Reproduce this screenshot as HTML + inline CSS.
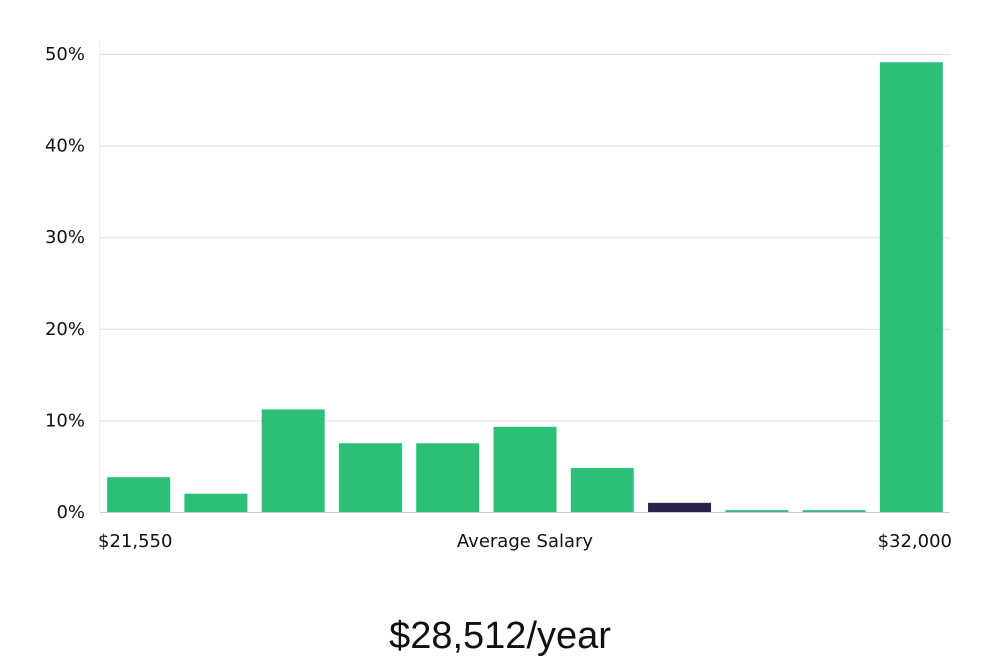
<!DOCTYPE html>
<html><head><meta charset="utf-8"><style>
body{margin:0;background:#fff;width:1000px;height:660px;overflow:hidden}
svg text{font-family:"DejaVu Sans","Liberation Sans",sans-serif;fill:#111}
</style></head><body>
<svg id="chart" width="1000" height="660">
<g id="grid"></g><g id="bars"></g><g id="ylabels"></g>
<line x1="100" y1="512.5" x2="950" y2="512.5" stroke="#ccc" stroke-width="1"/>
<text x="98" y="547" font-size="18">$21,550</text>
<text x="525" y="547" font-size="18" text-anchor="middle">Average Salary</text>
<text x="952" y="547" font-size="18" text-anchor="end">$32,000</text>
<text x="500" y="648" font-size="38" text-anchor="middle" style="font-family:'Liberation Sans',sans-serif;font-weight:300">$28,512/year</text>
</svg>
<script>
const values=[3.8,2.0,11.2,7.5,7.5,9.3,4.8,1.0,0.2,0.2,49.1];
const highlight=[false,false,false,false,false,false,false,true,false,false,false];
const yTicks=[0,10,20,30,40,50];
const yTickLabels=["0%","10%","20%","30%","40%","50%"];
const ns="http://www.w3.org/2000/svg";
const x0=100,x1=950,yBase=512,yTop=54,yMax=50;
const y=v=>yBase-(yBase-yTop)*v/yMax;
const band=(x1-x0)/values.length;
const grid=document.getElementById('grid'),bars=document.getElementById('bars'),yl=document.getElementById('ylabels');
yTicks.forEach((t,i)=>{
 if(t>0){const l=document.createElementNS(ns,'line');
 l.setAttribute('x1',x0);l.setAttribute('x2',x1);l.setAttribute('y1',y(t)+0.5);l.setAttribute('y2',y(t)+0.5);
 l.setAttribute('stroke','#ddd');
 
 
 grid.appendChild(l);}
 const tx=document.createElementNS(ns,'text');
 tx.setAttribute('x',85);tx.setAttribute('y',y(t)+6);tx.setAttribute('text-anchor','end');tx.setAttribute('font-size','18');
 tx.textContent=yTickLabels[i];
 
 
 yl.appendChild(tx);
});
const yl2=document.createElementNS(ns,'line');
yl2.setAttribute('x1',x0-0.5);yl2.setAttribute('x2',x0-0.5);yl2.setAttribute('y1',40);yl2.setAttribute('y2',yBase);yl2.setAttribute('stroke','#eee');


grid.appendChild(yl2);
values.forEach((v,i)=>{
 const r=document.createElementNS(ns,'rect');
 const bw=63;
 r.setAttribute('x',x0+band*i+(band-bw)/2);r.setAttribute('width',bw);
 r.setAttribute('y',y(v));r.setAttribute('height',Math.max(1,yBase-y(v)));
 r.setAttribute('fill',highlight[i]?'#24244a':'#2bbf78');
 
 
 bars.appendChild(r);
});
</script>
</body></html>
